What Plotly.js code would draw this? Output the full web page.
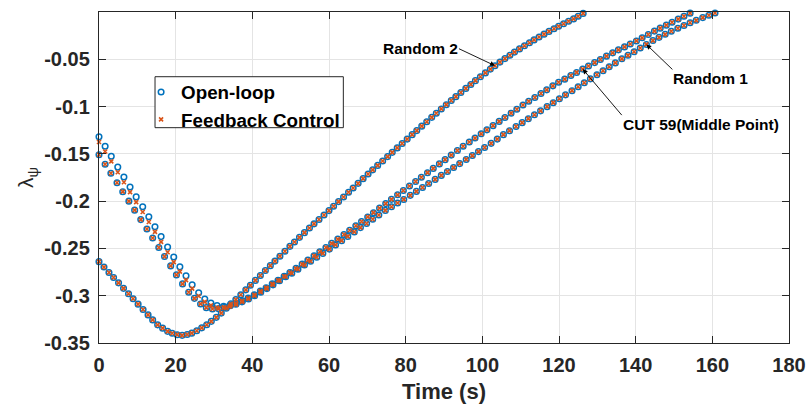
<!DOCTYPE html>
<html><head><meta charset="utf-8">
<script src="https://cdn.plot.ly/plotly-3.0.1.min.js"></script>
<style>html,body{margin:0;padding:0;background:#fff;}#chart{width:812px;height:409px;}</style>
</head><body><div id="chart"></div>
<script>
// ---- data ----
const seriesNames = ['Open-loop', 'Feedback Control'];
const curveNames = ['Random 2', 'CUT 59(Middle Point)', 'Random 1'];

const r2Time = [0, 1.3, 2.6, 3.8, 5.1, 6.4, 7.7, 8.9, 10.2, 11.5,
  12.8, 14.0, 15.3, 16.6, 17.9, 19.1, 20.4, 21.7, 23.0, 24.2,
  25.5, 26.8, 28.1, 29.3, 30.6, 31.9, 33.2, 34.4, 35.7, 37.0,
  38.3, 39.5, 40.8, 42.1, 43.4, 44.7, 45.9, 47.2, 48.5, 49.8,
  51.0, 52.3, 53.6, 54.9, 56.1, 57.4, 58.7, 60.0, 61.2, 62.5,
  63.8, 65.1, 66.3, 67.6, 68.9, 70.2, 71.4, 72.7, 74.0, 75.3,
  76.5, 77.8, 79.1, 80.4, 81.7, 82.9, 84.2, 85.5, 86.8, 88.0,
  89.3, 90.6, 91.9, 93.1, 94.4, 95.7, 97.0, 98.2, 99.5, 100.8,
  102.1, 103.3, 104.6, 105.9, 107.2, 108.4, 109.7, 111.0, 112.3, 113.5,
  114.8, 116.1, 117.4, 118.7, 119.9, 121.2, 122.5, 123.8, 125.0, 126.3];
const r2OpenLoop = [-0.264, -0.2697, -0.2754, -0.2807, -0.2864, -0.2922, -0.2979, -0.3032, -0.3089, -0.3146,
  -0.3203, -0.3256, -0.3308, -0.3343, -0.3377, -0.3397, -0.3412, -0.3419, -0.3410, -0.3396,
  -0.3370, -0.3340, -0.3307, -0.3271, -0.3229, -0.3184, -0.3132, -0.3086, -0.3041, -0.2990,
  -0.2938, -0.2890, -0.2838, -0.2786, -0.2734, -0.2682, -0.2634, -0.2582, -0.2530, -0.2478,
  -0.2432, -0.2383, -0.2333, -0.2284, -0.2240, -0.2194, -0.2147, -0.2100, -0.2054, -0.2005,
  -0.1956, -0.1906, -0.1861, -0.1812, -0.1762, -0.1713, -0.1669, -0.1622, -0.1576, -0.1529,
  -0.1484, -0.1437, -0.1391, -0.1344, -0.1297, -0.1254, -0.1207, -0.1161, -0.1114, -0.1071,
  -0.1025, -0.0980, -0.0936, -0.0895, -0.0851, -0.0808, -0.0766, -0.0726, -0.0685, -0.0644,
  -0.0604, -0.0568, -0.0530, -0.0493, -0.0457, -0.0424, -0.0390, -0.0357, -0.0325, -0.0295,
  -0.0264, -0.0234, -0.0205, -0.0177, -0.0151, -0.0124, -0.0098, -0.0073, -0.0045, -0.0015];
const r2Feedback = r2OpenLoop.slice();   // overlaps the open-loop markers everywhere

const cutTime = [0, 1.6, 3.1, 4.7, 6.2, 7.8, 9.3, 10.9, 12.5, 14.0,
  15.6, 17.1, 18.7, 20.2, 21.8, 23.4, 24.9, 26.5, 28.0, 29.6,
  31.2, 32.7, 34.3, 35.8, 37.4, 38.9, 40.5, 42.1, 43.6, 45.2,
  46.7, 48.3, 49.8, 51.4, 53.0, 54.5, 56.1, 57.6, 59.2, 60.7,
  62.3, 63.9, 65.4, 67.0, 68.5, 70.1, 71.6, 73.2, 74.8, 76.3,
  77.9, 79.4, 81.0, 82.6, 84.1, 85.7, 87.2, 88.8, 90.3, 91.9,
  93.5, 95.0, 96.6, 98.1, 99.7, 101.2, 102.8, 104.4, 105.9, 107.5,
  109.0, 110.6, 112.1, 113.7, 115.3, 116.8, 118.4, 119.9, 121.5, 123.1,
  124.6, 126.2, 127.7, 129.3, 130.8, 132.4, 134.0, 135.5, 137.1, 138.6,
  140.2, 141.7, 143.3, 144.9, 146.4, 148.0, 149.5, 151.1, 152.6, 154.2];
const cutOpenLoop = [-0.151, -0.161, -0.1705, -0.1805, -0.190, -0.200, -0.2095, -0.2195, -0.2295, -0.239,
  -0.249, -0.2585, -0.2685, -0.278, -0.2875, -0.2963, -0.3028, -0.3087, -0.3126, -0.3140,
  -0.3137, -0.3123, -0.3104, -0.3083, -0.3055, -0.3025, -0.2990, -0.2951, -0.2915, -0.2875,
  -0.2836, -0.2794, -0.2755, -0.2711, -0.2666, -0.2624, -0.2578, -0.2535, -0.2490, -0.2446,
  -0.2401, -0.2353, -0.2308, -0.2260, -0.2215, -0.2167, -0.2122, -0.2074, -0.2026, -0.1981,
  -0.1933, -0.1888, -0.1840, -0.1792, -0.1747, -0.1699, -0.1654, -0.1606, -0.1561, -0.1513,
  -0.1465, -0.1420, -0.1375, -0.1333, -0.1288, -0.1246, -0.1202, -0.1157, -0.1115, -0.1070,
  -0.1028, -0.0983, -0.0944, -0.0904, -0.0862, -0.0823, -0.0781, -0.0743, -0.0710, -0.0672,
  -0.0639, -0.0604, -0.0571, -0.0535, -0.0502, -0.0467, -0.0432, -0.0400, -0.0369, -0.0338,
  -0.0306, -0.0273, -0.0238, -0.0202, -0.0171, -0.0139, -0.0108, -0.0075, -0.0045, -0.0012];
const cutFeedback = cutOpenLoop.slice();

const r1Time = [0, 1.6, 3.2, 4.9, 6.5, 8.1, 9.7, 11.4, 13.0, 14.6,
  16.2, 17.9, 19.5, 21.1, 22.7, 24.3, 26.0, 27.6, 29.2, 30.8,
  32.5, 34.1, 35.7, 37.3, 39.0, 40.6, 42.2, 43.8, 45.4, 47.1,
  48.7, 50.3, 51.9, 53.6, 55.2, 56.8, 58.4, 60.1, 61.7, 63.3,
  64.9, 66.6, 68.2, 69.8, 71.4, 73.0, 74.7, 76.3, 77.9, 79.5,
  81.2, 82.8, 84.4, 86.0, 87.7, 89.3, 90.9, 92.5, 94.1, 95.8,
  97.4, 99.0, 100.6, 102.3, 103.9, 105.5, 107.1, 108.8, 110.4, 112.0,
  113.6, 115.2, 116.9, 118.5, 120.1, 121.7, 123.4, 125.0, 126.6, 128.2,
  129.9, 131.5, 133.1, 134.7, 136.4, 138.0, 139.6, 141.2, 142.8, 144.5,
  146.1, 147.7, 149.3, 151.0, 152.6, 154.2, 155.8, 157.5, 159.1, 160.7];
const r1OpenLoop = [-0.132, -0.142, -0.1525, -0.164, -0.1745, -0.185, -0.1955, -0.206, -0.2165, -0.227,
  -0.2375, -0.2485, -0.259, -0.2695, -0.2790, -0.2885, -0.2968, -0.3035, -0.3077, -0.3105,
  -0.3112, -0.3105, -0.3090, -0.3065, -0.3035, -0.3000, -0.2963, -0.2925, -0.2885, -0.2841,
  -0.2799, -0.2762, -0.2720, -0.2676, -0.2635, -0.2593, -0.2552, -0.2507, -0.2463, -0.2418,
  -0.2373, -0.2325, -0.2280, -0.2236, -0.2191, -0.2146, -0.2098, -0.2059, -0.2020, -0.1982,
  -0.1939, -0.1897, -0.1856, -0.1814, -0.1770, -0.1728, -0.1687, -0.1645, -0.1603, -0.1559,
  -0.1518, -0.1476, -0.1433, -0.1389, -0.1344, -0.1297, -0.1255, -0.1211, -0.1170, -0.1128,
  -0.1086, -0.1045, -0.1001, -0.0959, -0.0917, -0.0876, -0.0832, -0.0790, -0.0748, -0.0707,
  -0.0663, -0.0621, -0.0579, -0.0538, -0.0495, -0.0458, -0.0420, -0.0381, -0.0343, -0.0302,
  -0.0268, -0.0236, -0.0204, -0.0172, -0.0143, -0.0114, -0.0088, -0.0059, -0.0034, -0.0010];
const r1Feedback = [-0.1375, -0.1475, -0.158, -0.1695, -0.180, -0.1905, -0.201, -0.2115, -0.222, -0.2325,
  -0.243, -0.254, -0.2645, -0.2745, -0.2835, -0.2925, -0.3003, -0.3065, -0.3102, -0.3125,
  -0.3127, -0.3115, -0.3095, -0.3065, -0.3035, -0.3000, -0.2963, -0.2925, -0.2885, -0.2841,
  -0.2799, -0.2762, -0.2720, -0.2676, -0.2635, -0.2593, -0.2552, -0.2507, -0.2463, -0.2418,
  -0.2373, -0.2325, -0.2280, -0.2236, -0.2191, -0.2146, -0.2098, -0.2059, -0.2020, -0.1982,
  -0.1939, -0.1897, -0.1856, -0.1814, -0.1770, -0.1728, -0.1687, -0.1645, -0.1603, -0.1559,
  -0.1518, -0.1476, -0.1433, -0.1389, -0.1344, -0.1297, -0.1255, -0.1211, -0.1170, -0.1128,
  -0.1086, -0.1045, -0.1001, -0.0959, -0.0917, -0.0876, -0.0832, -0.0790, -0.0748, -0.0707,
  -0.0663, -0.0621, -0.0579, -0.0538, -0.0495, -0.0458, -0.0420, -0.0381, -0.0343, -0.0302,
  -0.0268, -0.0236, -0.0204, -0.0172, -0.0143, -0.0114, -0.0088, -0.0059, -0.0034, -0.0010];

const xTickVals = [0, 20, 40, 60, 80, 100, 120, 140, 160, 180];
const xTickText = ['0', '20', '40', '60', '80', '100', '120', '140', '160', '180'];
const yTickVals = [-0.35, -0.3, -0.25, -0.2, -0.15, -0.1, -0.05];
const yTickText = ['-0.35', '-0.3', '-0.25', '-0.2', '-0.15', '-0.1', '-0.05'];

// ---- traces ----
const BLUE = '#0072BD', ORANGE = '#D95319';
const curves = [
  {t: r2Time, ol: r2OpenLoop, fb: r2Feedback},
  {t: cutTime, ol: cutOpenLoop, fb: cutFeedback},
  {t: r1Time, ol: r1OpenLoop, fb: r1Feedback}
];
const traces = [];
curves.forEach((c, i) => {
  traces.push({x: c.t, y: c.ol, type: 'scatter', mode: 'markers', name: seriesNames[0],
    legendgroup: 'ol', showlegend: i === 0, cliponaxis: false, hoverinfo: 'skip',
    marker: {symbol: 'circle-open', size: 5.6, color: BLUE, line: {width: 1.5, color: BLUE}}});
});
curves.forEach((c, i) => {
  traces.push({x: c.t, y: c.fb, type: 'scatter', mode: 'markers', name: seriesNames[1],
    legendgroup: 'fb', showlegend: i === 0, cliponaxis: false, hoverinfo: 'skip',
    marker: {symbol: 'x-thin-open', size: 4, color: ORANGE, line: {width: 1.6, color: ORANGE}}});
});

const AX = '#262626';
const FONT = 'Liberation Sans, Arial, Helvetica, sans-serif';
const axisCommon = {
  ticks: 'inside', ticklen: 7, tickwidth: 1, tickcolor: AX,
  showline: true, linecolor: AX, linewidth: 1.2, mirror: 'ticks',
  showgrid: true, gridcolor: '#e4e4e4', gridwidth: 1, zeroline: false,
  tickfont: {family: FONT, size: 20, weight: 700, color: AX}
};
const annFont = {family: FONT, size: 15.5, weight: 700, color: '#000'};
const arrowStyle = {showarrow: true, arrowhead: 2, arrowsize: 1.1, arrowwidth: 0.9, arrowcolor: '#000',
  standoff: 0, borderpad: 0, xref: 'x', yref: 'y'};

const layout = {
  width: 812, height: 409,
  margin: {l: 99, r: 23, t: 12, b: 66, pad: 0},
  paper_bgcolor: '#ffffff', plot_bgcolor: '#ffffff',
  font: {family: FONT, color: AX},
  xaxis: Object.assign({}, axisCommon, {
    range: [0, 180], tickmode: 'array', tickvals: xTickVals, ticktext: xTickText,
    ticklabelstandoff: 4,
    title: {text: 'Time (s)', font: {family: FONT, size: 22, weight: 700, color: AX}, standoff: 8}
  }),
  yaxis: Object.assign({}, axisCommon, {
    range: [-0.35, 0], tickmode: 'array', tickvals: yTickVals, ticktext: yTickText,
    ticklabelstandoff: 4,
    title: {text: 'λ<sub>ψ</sub>', font: {family: FONT, size: 21, color: AX}, standoff: 4}
  }),
  showlegend: true,
  legend: {
    x: 0.061, y: 0.815, xanchor: 'left', yanchor: 'top', tracegroupgap: 0,
    bgcolor: 'rgba(0,0,0,0)', borderwidth: 0, itemwidth: 30,
    font: {family: FONT, size: 18.8, weight: 700, color: '#000'}
  },
  shapes: [{type: 'rect', xref: 'paper', yref: 'paper', x0: 0.0812, x1: 0.3541, y0: 0.6505, y1: 0.8045,
    fillcolor: '#ffffff', line: {color: AX, width: 1}, layer: 'above'}],
  annotations: [
    Object.assign({x: r2Time[81], y: r2OpenLoop[81], text: curveNames[0], ax: -36, ay: -17,
      xanchor: 'right', yanchor: 'middle', font: annFont}, arrowStyle),
    Object.assign({x: r1Time[88], y: r1OpenLoop[88], text: curveNames[2], ax: 26, ay: 25,
      xanchor: 'left', yanchor: 'top', font: annFont}, arrowStyle),
    Object.assign({x: cutTime[81], y: cutOpenLoop[81], text: curveNames[1], ax: 39, ay: 46,
      xanchor: 'left', yanchor: 'top', font: annFont}, arrowStyle)
  ]
};

Plotly.newPlot('chart', traces, layout, {displayModeBar: false, staticPlot: true});
</script>
</body></html>
